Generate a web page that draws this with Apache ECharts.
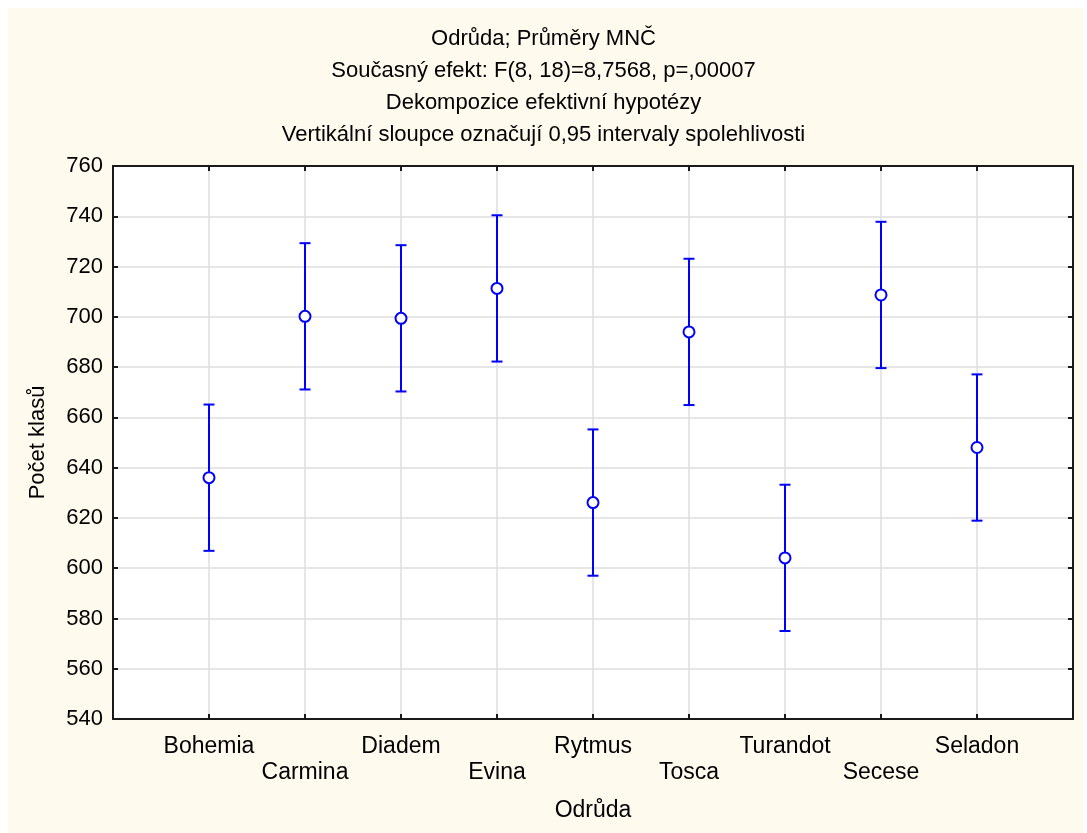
<!DOCTYPE html>
<html>
<head>
<meta charset="utf-8">
<title>Odrůda; Průměry MNČ</title>
<script src="https://cdn.jsdelivr.net/npm/echarts@6/dist/echarts.min.js"></script>
<style>
  html, body { margin: 0; padding: 0; background: #ffffff; }
  #chart { width: 1087px; height: 833px; }
</style>
</head>
<body>
<div id="chart"></div>
<script>
// Varieties (Odrůda) and their least-squares means with 0.95 confidence limits
const categories = ['Bohemia', 'Carmina', 'Diadem', 'Evina', 'Rytmus', 'Tosca', 'Turandot', 'Secese', 'Seladon'];
const means = [636.0, 700.2, 699.4, 711.3, 626.1, 694.0, 604.1, 708.7, 648.0];
const lower = [606.9, 671.1, 670.3, 682.2, 597.0, 664.9, 575.0, 679.6, 618.9];
const upper = [665.1, 729.3, 728.5, 740.4, 655.2, 723.1, 633.2, 737.8, 677.1];
const yTicks = [540, 560, 580, 600, 620, 640, 660, 680, 700, 720, 740, 760];
const titleLines = [
  'Odrůda; Průměry MNČ',
  'Současný efekt: F(8, 18)=8,7568, p=,00007',
  'Dekompozice efektivní hypotézy',
  'Vertikální sloupce označují 0,95 intervaly spolehlivosti'
];

const FONT = '"Liberation Sans", Arial, sans-serif';
const BLUE = '#0000ff';
const AXIS = '#1a1a1a';
const GRIDC = '#dedede';

const chart = echarts.init(document.getElementById('chart'), null, { renderer: 'canvas' });

const barData = categories.map((c, i) => [i + 1, lower[i], upper[i]]);
const pointData = categories.map((c, i) => [i + 1, means[i]]);

const option = {
  backgroundColor: '#ffffff',
  animation: false,
  graphic: [
    {
      type: 'rect', z: -10, silent: true,
      shape: { x: 8, y: 8, width: 1075, height: 825 },
      style: { fill: '#fffaee' }
    }
  ],
  title: {
    text: titleLines.join('\n'),
    left: 'center',
    top: 18,
    textStyle: { fontFamily: FONT, fontSize: 22, fontWeight: 'normal', color: '#000', lineHeight: 32 }
  },
  grid: {
    left: 113, right: 14, top: 166, bottom: 114,
    show: true, backgroundColor: '#ffffff', borderColor: AXIS, borderWidth: 0
  },
  xAxis: [
    {
      type: 'value', min: 0, max: 10, interval: 1, position: 'bottom',
      name: 'Odrůda', nameLocation: 'middle', nameGap: 80,
      nameTextStyle: { fontFamily: FONT, fontSize: 23, color: '#000' },
      axisLine: { show: true, onZero: false, lineStyle: { color: AXIS, width: 2 } },
      axisTick: { show: true, inside: true, length: 5, lineStyle: { color: AXIS, width: 2 } },
      splitLine: { show: true, lineStyle: { color: GRIDC, width: 1.5 } },
      axisLabel: {
        margin: 15,
        fontFamily: FONT, fontSize: 23, color: '#000', lineHeight: 26,
        showMinLabel: true, showMaxLabel: true,
        formatter: function (v) {
          const i = Math.round(v) - 1;
          if (i < 0 || i >= categories.length) return '';
          return i % 2 === 0 ? categories[i] : '\n' + categories[i];
        }
      }
    },
    {
      type: 'value', min: 0, max: 10, interval: 1, position: 'top',
      axisLine: { show: true, onZero: false, lineStyle: { color: AXIS, width: 2 } },
      axisTick: { show: true, inside: true, length: 5, lineStyle: { color: AXIS, width: 2 } },
      splitLine: { show: false },
      axisLabel: { show: false }
    }
  ],
  yAxis: [
    {
      type: 'value', min: 540, max: 760, interval: 20, position: 'left',
      name: 'Počet klasů', nameLocation: 'middle', nameGap: 64,
      nameTextStyle: { fontFamily: FONT, fontSize: 22, color: '#000' },
      axisLine: { show: true, onZero: false, lineStyle: { color: AXIS, width: 2 } },
      axisTick: { show: true, inside: true, length: 5, lineStyle: { color: AXIS, width: 2 } },
      splitLine: { show: true, lineStyle: { color: GRIDC, width: 1.5 } },
      axisLabel: {
        margin: 10, fontFamily: FONT, fontSize: 22, color: '#000',
        formatter: function (v) { return yTicks.indexOf(v) >= 0 ? String(v) : ''; }
      }
    },
    {
      type: 'value', min: 540, max: 760, interval: 20, position: 'right',
      axisLine: { show: true, onZero: false, lineStyle: { color: AXIS, width: 2 } },
      axisTick: { show: true, inside: true, length: 5, lineStyle: { color: AXIS, width: 2 } },
      splitLine: { show: false },
      axisLabel: { show: false }
    }
  ],
  series: [
    {
      type: 'custom',
      name: 'CI',
      xAxisIndex: 0, yAxisIndex: 0,
      data: barData,
      z: 3,
      renderItem: function (params, api) {
        const x = api.value(0);
        const lo = api.coord([x, api.value(1)]);
        const hi = api.coord([x, api.value(2)]);
        const cap = 5.5;
        const st = { stroke: BLUE, lineWidth: 2 };
        return {
          type: 'group',
          children: [
            { type: 'line', shape: { x1: lo[0], y1: lo[1], x2: hi[0], y2: hi[1] }, style: st },
            { type: 'line', shape: { x1: lo[0] - cap, y1: lo[1], x2: lo[0] + cap, y2: lo[1] }, style: st },
            { type: 'line', shape: { x1: hi[0] - cap, y1: hi[1], x2: hi[0] + cap, y2: hi[1] }, style: st }
          ]
        };
      }
    },
    {
      type: 'scatter',
      name: 'Průměr',
      xAxisIndex: 0, yAxisIndex: 0,
      data: pointData,
      z: 4,
      symbol: 'circle',
      symbolSize: 11,
      itemStyle: { color: '#ffffff', borderColor: BLUE, borderWidth: 2, opacity: 1 }
    }
  ]
};

chart.setOption(option);
</script>
</body>
</html>
